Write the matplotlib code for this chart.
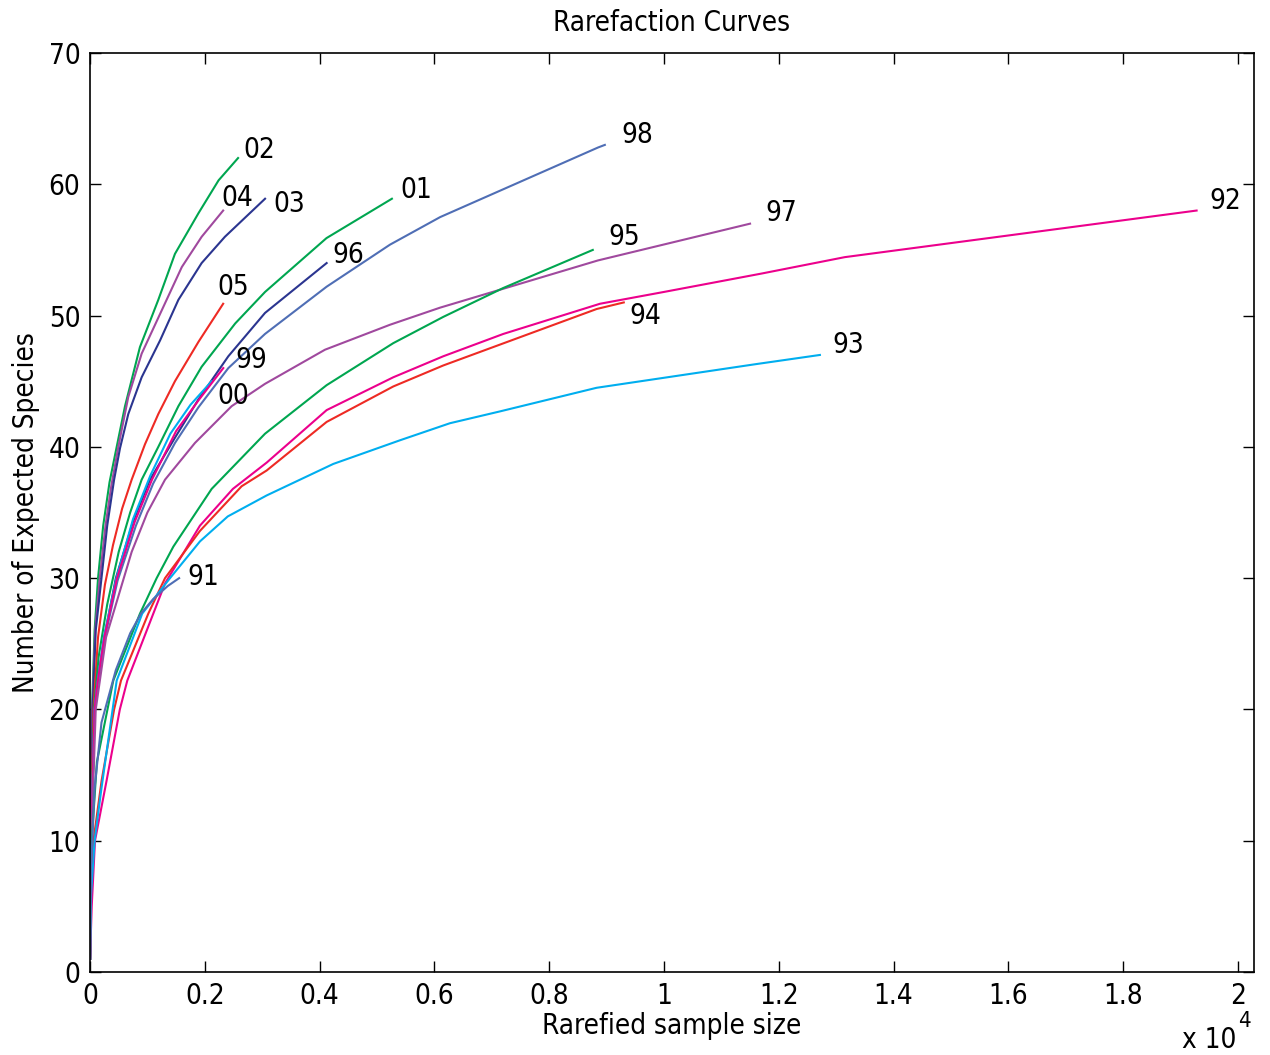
import matplotlib
matplotlib.use('Agg')
import matplotlib.pyplot as plt

plt.rcParams['font.family'] = ['DejaVu Sans']
plt.rcParams['font.stretch'] = 'condensed'

GREEN  = '#00A650'
PURPLE = '#A0499E'
NAVY   = '#2B3590'
RED    = '#EE2A24'
BLUE   = '#4F6EB5'
LBLUE  = '#00AEEF'
MAGEN  = '#EC008C'

# ── data (sample size, expected species) ────────────────────────────────────
n02 = [1, 10, 35, 80, 140, 230, 340, 465, 610, 870, 1190, 1480, 1890, 2240, 2580]
s02 = [1, 10, 20, 26, 30, 34, 37.3, 40, 43.1, 47.6, 51.2, 54.7, 57.8, 60.3, 62.0]

n04 = [1, 10, 40, 90, 170, 270, 370, 493, 667, 900, 1250, 1600, 1945, 2320]
s04 = [1, 10, 20, 26, 30, 34, 37, 40, 43.8, 47.1, 50.4, 53.7, 56.0, 58.0]

n03 = [1, 12, 45, 100, 200, 300, 420, 523, 667, 900, 1220, 1540, 1945, 2350, 3050]
s03 = [1, 10, 20, 26, 30, 34, 37.5, 39.9, 42.5, 45.3, 48.1, 51.2, 54.0, 56.0, 58.9]

n05 = [1, 15, 60, 140, 260, 400, 560, 726, 958, 1190, 1480, 1890, 2320]
s05 = [1, 10, 20, 25.5, 29.5, 32.5, 35.3, 37.5, 40.2, 42.5, 45.0, 48.0, 50.9]

n01 = [1, 20, 70, 150, 300, 500, 700, 900, 1190, 1540, 1945, 2530, 3050, 4120, 5260]
s01 = [1, 10, 20, 24, 28, 32, 35, 37.5, 40.0, 43.1, 46.1, 49.4, 51.8, 55.9, 58.9]

n96 = [1, 20, 80, 130, 250, 450, 750, 1045, 1481, 1887, 2410, 3049, 4123]
s96 = [1, 10, 20, 22, 25.5, 30, 34.3, 37.5, 40.7, 43.6, 46.9, 50.2, 54.0]

n98 = [1, 20, 80, 130, 260, 480, 800, 1100, 1481, 1887, 2410, 3049, 4123, 5226, 6100, 8850, 8970]
s98 = [1, 10, 20, 22, 25.5, 29.8, 34.0, 37.2, 40.3, 43.0, 46.0, 48.6, 52.2, 55.4, 57.5, 62.8, 63.0]

n00 = [1, 20, 80, 130, 240, 460, 750, 1050, 1400, 1750, 2120]
s00 = [1, 10, 20, 22, 25.5, 30, 34.5, 37.8, 41, 43.2, 45.0]

n99 = [1, 20, 80, 130, 250, 470, 780, 1080, 1500, 1900, 2322]
s99 = [1, 10, 20, 22, 25.5, 30, 34.3, 37.5, 41.2, 43.6, 46.0]

n97 = [1, 25, 100, 280, 726, 1000, 1307, 1829, 2468, 3049, 4094, 5226, 6097, 8850, 11500]
s97 = [1, 10, 20, 25.5, 32, 35, 37.5, 40.3, 43.1, 44.8, 47.4, 49.3, 50.6, 54.2, 57.0]

n95 = [1, 30, 120, 406, 871, 1161, 1452, 2120, 3049, 4123, 5284, 6155, 7200, 8760]
s95 = [1, 10, 16, 22.2, 27.3, 30, 32.4, 36.8, 41.0, 44.7, 47.9, 49.9, 52.1, 55.0]

n92 = [1, 30, 87, 290, 520, 650, 1103, 1307, 1916, 2490, 3078, 4123, 5284, 6155,
       7200, 8885, 10000, 11700, 13150, 19280]
s92 = [1, 5, 10, 14.6, 20, 22.2, 27.3, 29.6, 34.0, 36.8, 38.8, 42.8, 45.3, 46.9,
       48.6, 50.9, 51.8, 53.2, 54.45, 58.0]

n94 = [1, 15, 60, 203, 420, 540, 1016, 1307, 1916, 2642, 3078, 4123, 5284, 6155, 8827, 9300]
s94 = [1, 6, 10, 14.6, 20, 22.2, 27.3, 30, 33.6, 37.0, 38.2, 41.9, 44.6, 46.2, 50.5, 51.0]

n93 = [1, 20, 80, 200, 465, 910, 1394, 1916, 2400, 3078, 4239, 5400, 6271, 7142, 8827, 11600, 12717]
s93 = [1, 6, 10, 14, 22.2, 27.3, 30, 32.8, 34.7, 36.3, 38.7, 40.5, 41.8, 42.7, 44.5, 46.3, 47.0]

n91 = [1, 20, 80, 200, 450, 700, 887, 1100, 1354, 1553]
s91 = [1, 8, 14, 19, 23, 25.8, 27.3, 28.4, 29.4, 30.0]

curves = [
    ('02', n02, s02, GREEN),
    ('04', n04, s04, PURPLE),
    ('03', n03, s03, NAVY),
    ('05', n05, s05, RED),
    ('01', n01, s01, GREEN),
    ('96', n96, s96, NAVY),
    ('98', n98, s98, BLUE),
    ('00', n00, s00, LBLUE),
    ('99', n99, s99, MAGEN),
    ('97', n97, s97, PURPLE),
    ('95', n95, s95, GREEN),
    ('92', n92, s92, MAGEN),
    ('94', n94, s94, RED),
    ('93', n93, s93, LBLUE),
    ('91', n91, s91, BLUE),
]

# label offsets from curve end, in points
LABEL_OFF = {
    '02': (4, 6),  '04': (-1, 9), '03': (6, -4), '05': (-4, 12), '01': (6, 6),
    '96': (4, 6),  '98': (12, 7), '99': (9, 6),  '00': (4, -11), '97': (11, 8),
    '95': (11, 9), '92': (9, 7),  '94': (4, -10), '93': (9, 7),  '91': (6, 1),
}

fig = plt.figure(figsize=(12.7, 10.55), dpi=100)
fig.patch.set_facecolor('white')
ax = fig.add_axes([90/1270, 83/1055, 1164/1270, 919/1055])

for lab, n, s, c in curves:
    ax.plot(n, s, color=c, linewidth=1.5)
    dx, dy = LABEL_OFF[lab]
    ax.annotate(lab, xy=(n[-1], s[-1]), xytext=(dx, dy), textcoords='offset points',
                ha='left', va='center', fontsize=20, color='black')

ax.set_xlim(0, 20280)
ax.set_ylim(0, 70)
ax.set_xticks(range(0, 20001, 2000))
ax.set_xticklabels(['0', '0.2', '0.4', '0.6', '0.8', '1', '1.2', '1.4', '1.6', '1.8', '2'])
ax.set_yticks(range(0, 71, 10))
ax.tick_params(direction='in', length=8, width=1, labelsize=20, top=True, right=True, pad=7)
for sp in ax.spines.values():
    sp.set_linewidth(1.2)

ax.set_title('Rarefaction Curves', fontsize=20, pad=16)
ax.set_xlabel('Rarefied sample size', fontsize=20, labelpad=2)
ax.set_ylabel('Number of Expected Species', fontsize=20, labelpad=6)

fig.text(1236/1270, 1 - 1040/1055, 'x 10', ha='right', va='center', fontsize=20)
fig.text(1238/1270, 1 - 1021/1055, '4', ha='left', va='center', fontsize=16)

plt.savefig('out.png', dpi=100, facecolor='white')
plt.close()
